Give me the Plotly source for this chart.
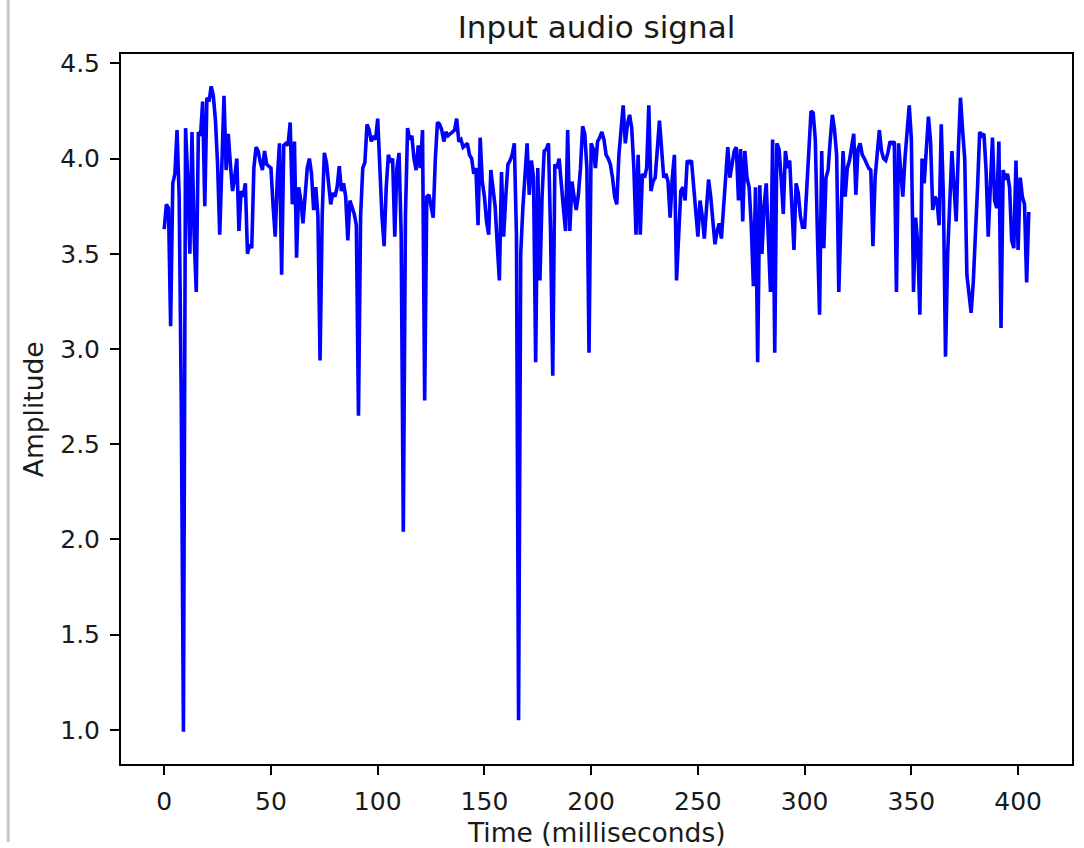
import plotly.graph_objects as go

# Amplitude values, one per millisecond (t = 0 .. 405)
amp_000_049 = [
    3.63, 3.76, 3.74, 3.12, 3.87, 3.92, 4.15, 3.80, 2.70, 0.99,
    4.16, 3.90, 3.50, 4.14, 3.60, 3.30, 4.14, 4.12, 4.30, 3.75,
    4.32, 4.30, 4.38, 4.33, 4.20, 3.97, 3.60, 3.95, 4.33, 3.94,
    4.13, 3.97, 3.83, 3.90, 4.00, 3.62, 3.83, 3.80, 3.87, 3.50,
    3.55, 3.53, 3.95, 4.06, 4.04, 3.98, 3.94, 4.04, 3.97, 3.96,
]
amp_050_099 = [
    3.95, 3.75, 3.59, 3.90, 4.08, 3.39, 4.07, 4.08, 4.07, 4.19,
    3.76, 4.09, 3.48, 3.85, 3.78, 3.66, 3.80, 3.95, 4.00, 3.92,
    3.73, 3.85, 3.70, 2.94, 3.70, 4.03, 3.98, 3.85, 3.76, 3.82,
    3.80, 3.85, 3.96, 3.83, 3.87, 3.80, 3.57, 3.78, 3.75, 3.71,
    3.65, 2.65, 3.70, 3.95, 3.98, 4.18, 4.15, 4.09, 4.12, 4.10,
]
amp_100_149 = [
    4.21, 3.95, 3.70, 3.54, 3.85, 4.02, 3.98, 4.00, 3.59, 3.95,
    4.03, 3.60, 2.04, 3.70, 4.16, 4.10, 4.12, 4.00, 3.94, 4.07,
    3.95, 4.15, 2.73, 3.80, 3.81, 3.75, 3.69, 4.00, 4.19, 4.18,
    4.15, 4.09, 4.14, 4.12, 4.13, 4.14, 4.15, 4.21, 4.09, 4.10,
    4.06, 4.07, 4.08, 4.02, 4.00, 3.92, 3.95, 3.65, 4.11, 3.88,
]
amp_150_199 = [
    3.80, 3.67, 3.60, 3.94, 3.85, 3.75, 3.55, 3.36, 3.93, 3.59,
    3.80, 3.97, 3.99, 4.02, 4.08, 3.60, 1.05, 3.50, 3.74, 3.95,
    4.08, 3.81, 3.99, 3.90, 2.93, 3.95, 3.36, 3.80, 4.04, 4.05,
    4.08, 3.60, 2.86, 3.97, 3.95, 4.00, 3.85, 3.74, 3.62, 4.15,
    3.62, 3.88, 3.80, 3.73, 3.81, 3.95, 4.17, 4.13, 3.95, 2.98,
]
amp_200_249 = [
    4.08, 4.05, 3.95, 4.09, 4.11, 4.14, 4.10, 4.02, 4.00, 3.97,
    3.90, 3.80, 3.76, 4.02, 4.15, 4.28, 4.08, 4.18, 4.23, 4.16,
    3.95, 3.60, 4.02, 3.60, 3.92, 3.90, 3.95, 4.28, 3.83, 3.88,
    3.90, 4.05, 4.20, 4.05, 3.90, 3.92, 3.88, 3.69, 3.90, 4.02,
    3.36, 3.60, 3.83, 3.85, 3.78, 3.99, 3.98, 3.99, 3.85, 3.70,
]
amp_250_299 = [
    3.59, 3.78, 3.70, 3.58, 3.75, 3.89, 3.80, 3.65, 3.55, 3.62,
    3.66, 3.58, 3.75, 3.95, 4.06, 3.90, 3.98, 4.04, 4.06, 3.78,
    4.05, 3.67, 4.04, 3.90, 3.85, 3.65, 3.33, 3.85, 2.93, 3.86,
    3.50, 3.75, 3.87, 3.60, 3.30, 4.10, 2.98, 4.08, 4.05, 3.90,
    3.71, 4.04, 3.95, 3.99, 3.75, 3.52, 3.87, 3.82, 3.70, 3.64,
]
amp_300_349 = [
    3.64, 3.85, 4.10, 4.25, 4.24, 4.10, 3.60, 3.18, 4.04, 3.53,
    3.90, 3.94, 4.10, 4.23, 4.15, 4.02, 3.30, 3.75, 4.04, 3.80,
    3.95, 3.99, 4.05, 4.13, 3.81, 4.05, 4.08, 4.02, 4.00, 3.97,
    3.95, 3.94, 3.54, 3.90, 4.05, 4.15, 4.04, 4.00, 3.99, 4.03,
    4.09, 4.08, 4.09, 3.30, 4.08, 3.95, 3.80, 4.00, 4.15, 4.28,
]
amp_350_405 = [
    4.10, 3.30, 3.69, 3.55, 3.18, 4.00, 3.87, 4.05, 4.22, 4.09,
    3.73, 3.80, 3.78, 3.65, 4.18, 3.80, 2.96, 3.50, 3.76, 4.04,
    3.85, 3.67, 4.04, 4.32, 4.15, 4.00, 3.39, 3.28, 3.19, 3.35,
    3.57, 3.85, 4.14, 4.12, 4.13, 3.94, 3.59, 3.85, 4.11, 3.78,
    3.74, 4.09, 3.11, 3.94, 3.89, 3.92, 3.85, 3.57, 3.53, 3.99,
    3.52, 3.90, 3.80, 3.76, 3.35, 3.72,
]

amplitude = (amp_000_049 + amp_050_099 + amp_100_149 + amp_150_199
             + amp_200_249 + amp_250_299 + amp_300_349 + amp_350_405)
time_ms = list(range(len(amplitude)))

x_ticks = [0, 50, 100, 150, 200, 250, 300, 350, 400]
y_ticks = [1.0, 1.5, 2.0, 2.5, 3.0, 3.5, 4.0, 4.5]
y_tick_text = ["1.0", "1.5", "2.0", "2.5", "3.0", "3.5", "4.0", "4.5"]

title_text = "Input audio signal"
x_label = "Time (milliseconds)"
y_label = "Amplitude"

FONT = "DejaVu Sans"
TXT = "#1a1a1a"

fig = go.Figure()
fig.add_trace(go.Scatter(
    x=time_ms, y=amplitude, mode="lines",
    line=dict(color="#0000ff", width=3.6),
    hoverinfo="skip", showlegend=False,
))

# data range with matplotlib-like 5% margins
xmin, xmax = min(time_ms), max(time_ms)
ymin, ymax = min(amplitude), max(amplitude)
xpad = (xmax - xmin) * 0.05
ypad = (ymax - ymin) * 0.05

axis_common = dict(
    showgrid=False, zeroline=False, showline=True, linecolor="#000000",
    linewidth=2, mirror=True, ticks="outside", ticklen=9, tickwidth=2,
    tickcolor="#000000", tickfont=dict(family=FONT, size=25, color=TXT),
)

fig.update_layout(
    width=1084, height=848,
    margin=dict(l=121, r=10, t=54, b=84),
    paper_bgcolor="#ffffff", plot_bgcolor="#ffffff",
    font=dict(family=FONT, color=TXT),
    xaxis=dict(range=[xmin - xpad, xmax + xpad], tickmode="array",
               tickvals=x_ticks, ticklabelstandoff=5, **axis_common),
    yaxis=dict(range=[ymin - ypad, ymax + ypad], tickmode="array",
               tickvals=y_ticks, ticktext=y_tick_text,
               ticklabelstandoff=5, **axis_common),
    title=dict(text=title_text, x=0.5, xref="paper", xanchor="center",
               y=1 - 27 / 848, yref="container", yanchor="middle",
               font=dict(family=FONT, size=31, color=TXT)),
    annotations=[
        dict(text=x_label, x=0.5, xref="paper", y=-(832 - 764) / 710,
             yref="paper", xanchor="center", yanchor="middle",
             showarrow=False, font=dict(family=FONT, size=26.5, color=TXT)),
        dict(text=y_label, x=-(121 - 33) / 953, xref="paper", y=0.5,
             yref="paper", xanchor="center", yanchor="middle", textangle=-90,
             showarrow=False, font=dict(family=FONT, size=26.5, color=TXT)),
    ],
    shapes=[
        dict(type="line", xref="paper", yref="paper",
             x0=-(121 - 8) / 953, x1=-(121 - 8) / 953,
             y0=764 / 710, y1=-(842 - 764) / 710,
             line=dict(color="#c8c8c8", width=3)),
    ],
)

fig.write_html("out.html")
